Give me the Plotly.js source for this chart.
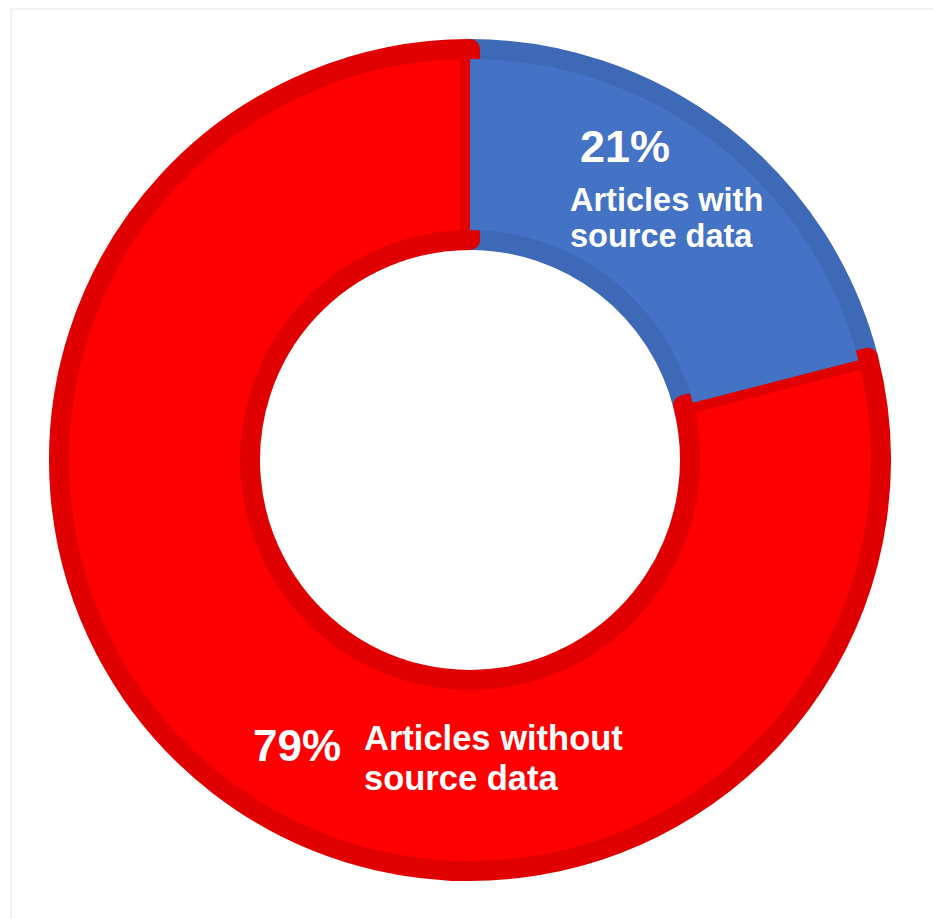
<!DOCTYPE html>
<html>
<head>
<meta charset="utf-8">
<script src="https://cdn.plot.ly/plotly-3.0.1.min.js"></script>
<style>html,body{margin:0;padding:0;background:#fff;}#chart{width:933px;height:919px;}</style>
</head>
<body>
<div id="chart"></div>
<script>
// Data
const categories = ["Articles with source data", "Articles without source data"];
const shares = [21, 79];
const pctLabels = ["21%", "79%"];
const nameLine1 = ["Articles with", "Articles without"];
const nameLine2 = ["source data", "source data"];

// Styles
const fillColors = ["#4472C4", "#FF0000"];
const edgeColors = ["#3E69B7", "#E00000"];

const W = 933, H = 919;
const cx = 470, cy = 460;          // centre in px (from top)
const band = 20;                    // border band width in px
const rOuter = 421, rInner = 210;

function dom(r) {
  return {
    x: [(cx - r) / W, (cx + r) / W],
    y: [(H - cy - r) / H, (H - cy + r) / H]
  };
}

// main ring: stroke centred on slice edge gives the darker border band
const rPath = rOuter - band / 2;
const base = {
  type: "pie",
  labels: categories,
  values: shares,
  sort: false,
  direction: "clockwise",
  rotation: 0,
  hole: (rInner + band / 2) / rPath,
  domain: dom(rPath),
  marker: { colors: fillColors, line: { color: edgeColors, width: band } },
  textinfo: "none",
  hoverinfo: "none",
  showlegend: false
};

// light fill of the first slice redrawn inside its border band
const rTop = rOuter - band;
const overlay = {
  type: "pie",
  labels: categories,
  values: shares,
  sort: false,
  direction: "clockwise",
  rotation: 0,
  hole: (rInner + band) / rTop,
  domain: dom(rTop),
  marker: { colors: [fillColors[0], "rgba(0,0,0,0)"], line: { width: 0 } },
  textinfo: "none",
  hoverinfo: "none",
  showlegend: false
};

function px(x, y) { return { x: x / W, y: 1 - y / H }; }

const font = "Liberation Sans, Arial, sans-serif";
const ann = [];
function addText(txt, x, y, size) {
  const p = px(x, y);
  ann.push({ xref: "paper", yref: "paper", x: p.x, y: p.y, xanchor: "left", yanchor: "middle",
    text: "<b>" + txt + "</b>", showarrow: false,
    font: { family: font, size: size, color: "#ffffff" } });
}
const pctPos = [[578, 147], [251, 745]];
const pctSize = [45, 44];
const l1Pos = [[568, 200], [362, 738]];
const l2Pos = [[568, 236], [362, 778]];
const nameSize = [32.5, 34.5];
for (let i = 0; i < categories.length; i++) {
  addText(pctLabels[i], pctPos[i][0], pctPos[i][1], pctSize[i]);
  addText(nameLine1[i], l1Pos[i][0], l1Pos[i][1], nameSize[i]);
  addText(nameLine2[i], l2Pos[i][0], l2Pos[i][1], nameSize[i]);
}

const layout = {
  width: W, height: H,
  margin: { l: 0, r: 0, t: 0, b: 0 },
  paper_bgcolor: "#ffffff",
  annotations: ann,
  shapes: [
    { type: "line", xref: "paper", yref: "paper", x0: 11 / W, x1: 1, y0: 1 - 9 / H, y1: 1 - 9 / H, line: { color: "#e6e6e6", width: 1 } },
    { type: "line", xref: "paper", yref: "paper", x0: 11 / W, x1: 11 / W, y0: 1 - 9 / H, y1: 0, line: { color: "#e6e6e6", width: 1 } }
  ]
};

Plotly.newPlot("chart", [base, overlay], layout, { staticPlot: true, displayModeBar: false });
</script>
</body>
</html>
